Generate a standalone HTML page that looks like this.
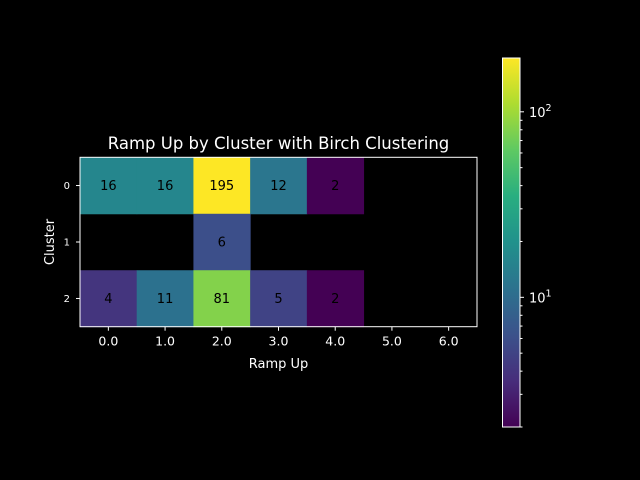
<!DOCTYPE html>
<html><head><meta charset="utf-8"><style>
html,body{margin:0;padding:0;background:#000;width:640px;height:480px;overflow:hidden}
svg{display:block}
text{font-family:"DejaVu Sans","Liberation Sans",sans-serif}
</style></head><body>
<svg id="chart" width="640" height="480" xmlns="http://www.w3.org/2000/svg">
<rect width="640" height="480" fill="#000"/>
<defs><linearGradient id="vir" x1="0" y1="1" x2="0" y2="0">
<stop offset="0" stop-color="#440154"/><stop offset="0.125" stop-color="#472d7b"/><stop offset="0.25" stop-color="#3b528b"/><stop offset="0.375" stop-color="#2c728e"/><stop offset="0.5" stop-color="#21918c"/><stop offset="0.625" stop-color="#28ae80"/><stop offset="0.75" stop-color="#5ec962"/><stop offset="0.875" stop-color="#addc30"/><stop offset="1" stop-color="#fde725"/></linearGradient></defs>
<g id="cells"></g>
<rect x="80" y="157.3" width="397" height="169.4" fill="none" stroke="#fff" stroke-width="1"/>
<g id="xt"></g>
<g id="yt"></g>
<text x="278.5" y="149" fill="#fff" font-size="16.5" text-anchor="middle">Ramp Up by Cluster with Birch Clustering</text>
<text x="278.5" y="368" fill="#fff" font-size="13" text-anchor="middle">Ramp Up</text>
<text x="0" y="0" transform="translate(54,242) rotate(-90)" fill="#fff" font-size="13" text-anchor="middle">Cluster</text>
<rect x="502.5" y="58" width="17.5" height="369" fill="url(#vir)" stroke="#fff" stroke-width="1"/>
<g id="cb"></g>
</svg>
<script>
const xLabels=["0.0","1.0","2.0","3.0","4.0","5.0","6.0"];
const yLabels=["0","1","2"];
const row0=[16,16,195,12,2,null,null];
const row1=[null,null,6,null,null,null,null];
const row2=[4,11,81,5,2,null,null];
const rows=[row0,row1,row2];
const vmin=2,vmax=195;
const X0=80,X1=477,Y0=157.3,Y1=326.7;
const cw=(X1-X0)/xLabels.length,ch=(Y1-Y0)/yLabels.length;
const stops=["#440154","#472d7b","#3b528b","#2c728e","#21918c","#28ae80","#5ec962","#addc30","#fde725"];
function hex(h){return [1,3,5].map(i=>parseInt(h.substr(i,2),16));}
function vir(t){t=Math.max(0,Math.min(1,t));const p=t*8,i=Math.min(7,Math.floor(p)),f=p-i;const a=hex(stops[i]),b=hex(stops[i+1]);return "rgb("+a.map((v,k)=>Math.round(v+(b[k]-v)*f)).join(",")+")";}
function norm(v){return (Math.log10(v)-Math.log10(vmin))/(Math.log10(vmax)-Math.log10(vmin));}
const NS="http://www.w3.org/2000/svg";
function mk(t,a,p){const e=document.createElementNS(NS,t);for(const k in a)e.setAttribute(k,a[k]);p.appendChild(e);return e;}
const cells=document.getElementById('cells');
rows.forEach((r,ri)=>r.forEach((v,ci)=>{if(v==null)return;
const el=mk('rect',{x:X0+ci*cw,y:Y0+ri*ch,width:cw+0.5,height:ch+0.5,fill:vir(norm(v))},cells);


const t=mk('text',{x:X0+(ci+0.5)*cw,y:Y0+(ri+0.5)*ch+4.5,'text-anchor':'middle','font-size':13,fill:'#000'},cells);
t.textContent=v;

}));
const xt=document.getElementById('xt');
xLabels.forEach((l,i)=>{const x=X0+(i+0.5)*cw;mk('line',{x1:x,x2:x,y1:Y1,y2:Y1+4,stroke:'#fff'},xt);
const t=mk('text',{x:x,y:Y1+19,'text-anchor':'middle','font-size':12.5,fill:'#fff'},xt);t.textContent=l;

});
const yt=document.getElementById('yt');
yLabels.forEach((l,i)=>{const y=Y0+(i+0.5)*ch;mk('line',{x1:X0-4,x2:X0,y1:y,y2:y,stroke:'#fff'},yt);
const t=mk('text',{x:X0-10,y:y+3.5,'text-anchor':'end','font-size':10,fill:'#fff'},yt);t.textContent=l;

});
const cb=document.getElementById('cb');const CB0=58,CB1=427;
function cy(v){return CB1-norm(v)*(CB1-CB0);}
[2,3,4,5,6,7,8,9,20,30,40,50,60,70,80,90].forEach(v=>{const y=cy(v);mk('line',{x1:520,x2:522.5,y1:y,y2:y,stroke:'#fff'},cb);});
[[10,"1"],[100,"2"]].forEach(([v,e])=>{const y=cy(v);mk('line',{x1:520,x2:524,y1:y,y2:y,stroke:'#fff'},cb);
const t=mk('text',{x:529,y:y+5,'font-size':13,fill:'#fff'},cb);t.textContent="10";
const s=mk('tspan',{dy:-6,'font-size':9.5},t);s.textContent=e;

});
</script>
</body></html>
